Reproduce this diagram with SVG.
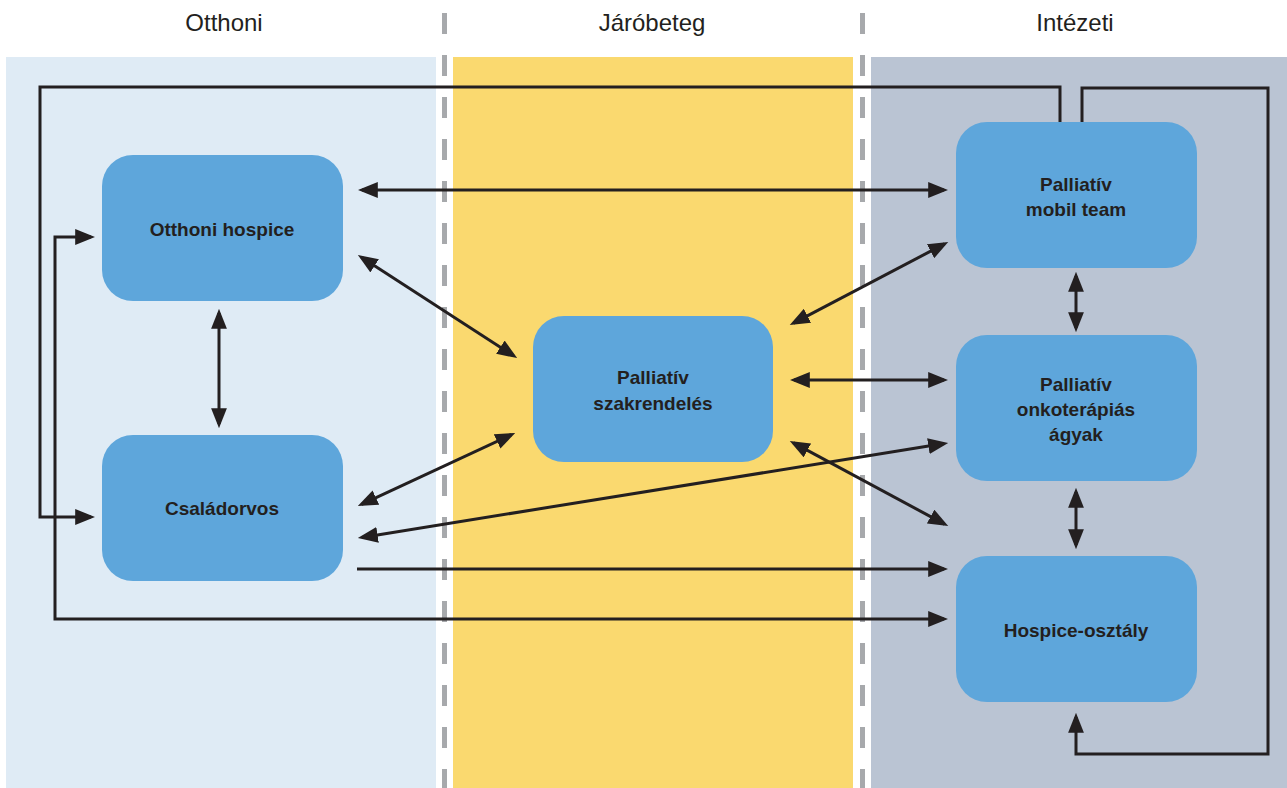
<svg xmlns="http://www.w3.org/2000/svg" width="1287" height="788" viewBox="0 0 1287 788">
<style>
.hdr{font-family:"Liberation Sans",Arial,sans-serif;font-size:24px;fill:#231f20;text-anchor:middle}
.lbl{font-family:"Liberation Sans",Arial,sans-serif;font-size:19px;font-weight:bold;fill:#231f20;text-anchor:middle}
.box{fill:#5ea6db}
.div{stroke:#a7a9ac;stroke-width:5;stroke-dasharray:21 21}
.c{fill:none;stroke:#231f20;stroke-width:3}
</style>
<defs>
<marker id="ah" markerUnits="userSpaceOnUse" markerWidth="20" markerHeight="16" viewBox="0 0 19 15" refX="15" refY="7.5" orient="auto-start-reverse">
<path d="M0,0 L19,7.5 L0,15 z" fill="#231f20"/>
</marker>
</defs>
<rect width="1287" height="788" fill="#ffffff"/>
<g id="lanes">
<rect x="6" y="57" width="430" height="731" fill="#dfebf5"/>
<rect x="453" y="57" width="400" height="731" fill="#fad96f"/>
<rect x="871" y="57" width="416" height="731" fill="#bac4d3"/>
<line class="div" x1="444.5" y1="13" x2="444.5" y2="788"/>
<line class="div" x1="862.5" y1="13" x2="862.5" y2="788"/>
<text class="hdr" x="224" y="31">Otthoni</text>
<text class="hdr" x="652" y="31">Járóbeteg</text>
<text class="hdr" x="1075" y="31">Intézeti</text>
</g>
<g id="node-otthoni-hospice">
<rect class="box" x="102" y="155" width="241" height="146" rx="31"/>
<text class="lbl" x="222" y="236">Otthoni hospice</text>
</g>
<g id="node-csaladorvos">
<rect class="box" x="102" y="435" width="241" height="146" rx="31"/>
<text class="lbl" x="222" y="515">Családorvos</text>
</g>
<g id="node-szakrendeles">
<rect class="box" x="533" y="316" width="240" height="146" rx="31"/>
<text class="lbl" x="653" y="384">Palliatív</text>
<text class="lbl" x="653" y="410">szakrendelés</text>
</g>
<g id="node-mobil-team">
<rect class="box" x="956" y="122" width="241" height="146" rx="31"/>
<text class="lbl" x="1076" y="191">Palliatív</text>
<text class="lbl" x="1076" y="216">mobil team</text>
</g>
<g id="node-onkoterapias">
<rect class="box" x="956" y="335" width="241" height="146" rx="31"/>
<text class="lbl" x="1076" y="391">Palliatív</text>
<text class="lbl" x="1076" y="416">onkoterápiás</text>
<text class="lbl" x="1076" y="441">ágyak</text>
</g>
<g id="node-hospice-osztaly">
<rect class="box" x="956" y="556" width="241" height="146" rx="31"/>
<text class="lbl" x="1076" y="637">Hospice-osztály</text>
</g>
<g id="connectors">
<line class="c" x1="362" y1="190" x2="944" y2="190" marker-start="url(#ah)" marker-end="url(#ah)"/>
<line class="c" x1="361.4" y1="257.2" x2="513.6" y2="355.8" marker-start="url(#ah)" marker-end="url(#ah)"/>
<line class="c" x1="219" y1="313" x2="219" y2="424" marker-start="url(#ah)" marker-end="url(#ah)"/>
<line class="c" x1="361.6" y1="504.3" x2="511.4" y2="434.7" marker-start="url(#ah)" marker-end="url(#ah)"/>
<line class="c" x1="362" y1="537.4" x2="944" y2="443.6" marker-start="url(#ah)" marker-end="url(#ah)"/>
<line class="c" x1="793.5" y1="323.1" x2="944.5" y2="243.9" marker-start="url(#ah)" marker-end="url(#ah)"/>
<line class="c" x1="794" y1="380" x2="944" y2="380" marker-start="url(#ah)" marker-end="url(#ah)"/>
<line class="c" x1="793.5" y1="442.9" x2="944.5" y2="524.1" marker-start="url(#ah)" marker-end="url(#ah)"/>
<line class="c" x1="357" y1="569" x2="944" y2="569" marker-end="url(#ah)"/>
<path class="c" d="M91,237 H55 V619 H944" marker-start="url(#ah)" marker-end="url(#ah)"/>
<path class="c" d="M1060,122 V87 H40 V517 H91" marker-end="url(#ah)"/>
<path class="c" d="M1082,122 V88 H1268 V754 H1076 V717" marker-end="url(#ah)"/>
<line class="c" x1="1076" y1="276" x2="1076" y2="328" marker-start="url(#ah)" marker-end="url(#ah)"/>
<line class="c" x1="1076" y1="492" x2="1076" y2="545" marker-start="url(#ah)" marker-end="url(#ah)"/>
</g>
</svg>
